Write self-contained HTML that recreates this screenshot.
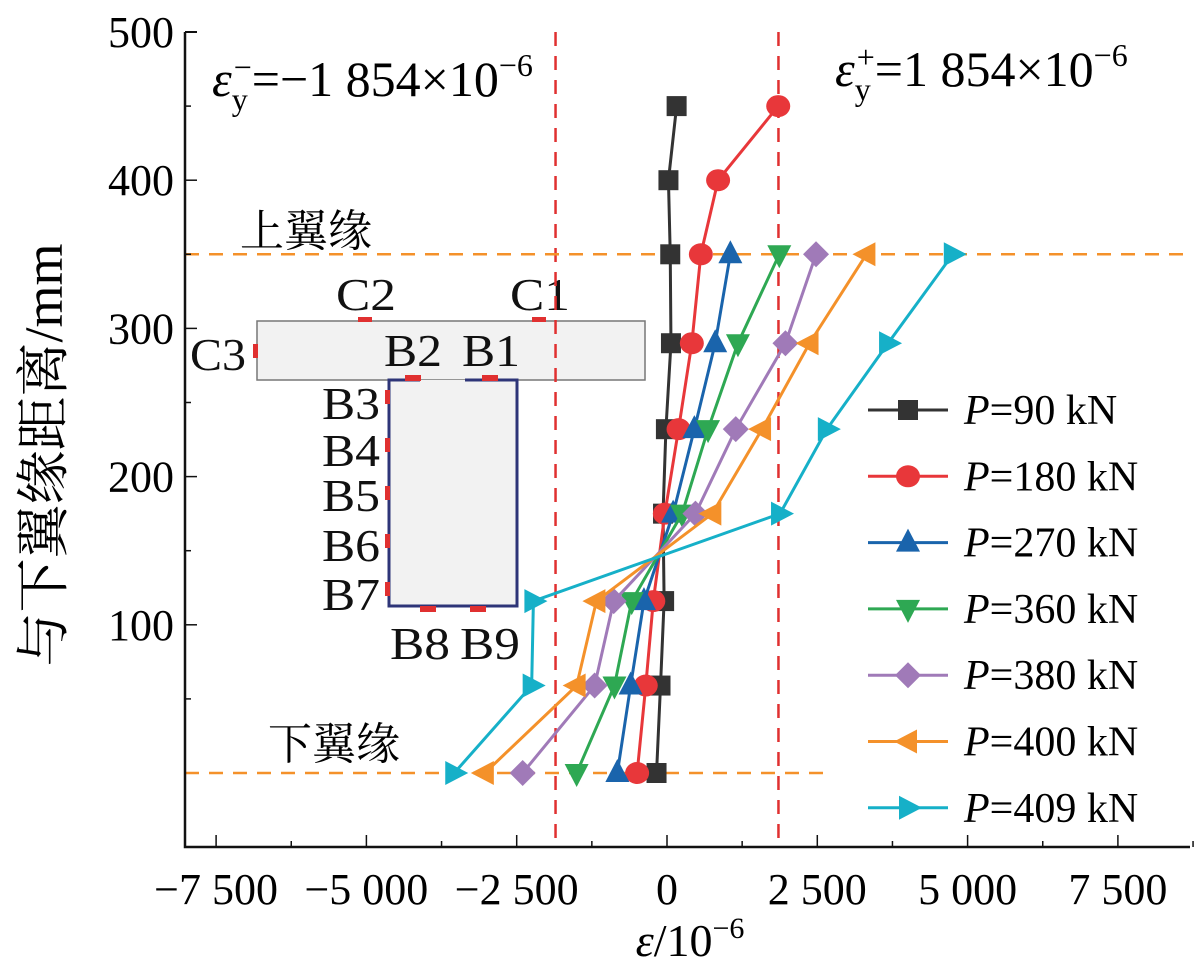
<!DOCTYPE html>
<html><head><meta charset="utf-8"><style>
body{margin:0;background:#fff}
svg{display:block;font-family:"Liberation Serif","Noto Serif CJK SC",serif}
</style></head><body>
<svg id="chart" width="1195" height="967" viewBox="0 0 1195 967" xmlns="http://www.w3.org/2000/svg">
<g id="inset">
  <rect x="257" y="321" width="388" height="59" fill="#f2f2f2" stroke="#777" stroke-width="1.5"/>
  <rect x="389" y="380" width="128" height="226" fill="#f2f2f2" stroke="none"/>
  <path d="M420,380 L389,380 L389,606 L517,606 L517,380 L465,380" fill="none" stroke="#2e3578" stroke-width="3"/>
  <g fill="#e03030">
    <rect x="358" y="317" width="14" height="5"/><rect x="532" y="317" width="14" height="5"/>
    <rect x="253" y="344" width="5" height="14"/>
    <rect x="405" y="375" width="16" height="6"/><rect x="482" y="375" width="16" height="6"/>
    <rect x="385" y="390" width="5" height="14"/><rect x="385" y="438" width="5" height="14"/>
    <rect x="385" y="486" width="5" height="14"/><rect x="385" y="534" width="5" height="14"/>
    <rect x="385" y="582" width="5" height="14"/>
    <rect x="420" y="606" width="16" height="6"/><rect x="470" y="606" width="16" height="6"/>
  </g>
  <g font-size="46" fill="#111">
    <text x="336" y="310" textLength="60" lengthAdjust="spacingAndGlyphs">C2</text><text x="510" y="310" textLength="60" lengthAdjust="spacingAndGlyphs">C1</text><text x="190" y="370" textLength="56" lengthAdjust="spacingAndGlyphs">C3</text>
    <text x="384" y="366" textLength="58" lengthAdjust="spacingAndGlyphs">B2</text><text x="462" y="366" textLength="58" lengthAdjust="spacingAndGlyphs">B1</text>
    <text x="322" y="419" textLength="58" lengthAdjust="spacingAndGlyphs">B3</text><text x="322" y="466" textLength="58" lengthAdjust="spacingAndGlyphs">B4</text><text x="322" y="511" textLength="58" lengthAdjust="spacingAndGlyphs">B5</text>
    <text x="322" y="561" textLength="58" lengthAdjust="spacingAndGlyphs">B6</text><text x="322" y="610" textLength="58" lengthAdjust="spacingAndGlyphs">B7</text>
    <text x="390" y="659" textLength="60" lengthAdjust="spacingAndGlyphs">B8</text><text x="460" y="659" textLength="60" lengthAdjust="spacingAndGlyphs">B9</text>
  </g>
</g>
<g id="grid"></g>
<g id="axes"></g>
<g id="series"></g>
<g id="legend"></g>
<text x="240" y="246" font-size="44">上翼缘</text>
<text x="268" y="759" font-size="44">下翼缘</text>
<text x="212" y="96" font-size="50"><tspan font-style="italic">ε</tspan><tspan font-size="32" dy="14">y</tspan><tspan font-size="32" dx="-14" dy="-32">−</tspan><tspan dy="18">=−1 854×10</tspan><tspan font-size="32" dy="-20">−6</tspan></text>
<text x="835" y="86" font-size="50"><tspan font-style="italic">ε</tspan><tspan font-size="32" dy="14">y</tspan><tspan font-size="32" dx="-14" dy="-32">+</tspan><tspan dy="18">=1 854×10</tspan><tspan font-size="32" dy="-20">−6</tspan></text>
<text x="690" y="956" font-size="46" text-anchor="middle"><tspan font-style="italic">ε</tspan>/10<tspan font-size="30" dy="-18">−6</tspan></text>
<text transform="translate(62,455) rotate(-90)" font-size="54" text-anchor="middle">与下翼缘距离/mm</text>
</svg>
<script>
const xTicks=[-7500,-5000,-2500,0,2500,5000,7500];
const xTickLabels=["−7 500","−5 000","−2 500","0","2 500","5 000","7 500"];
const yTicks=[100,200,300,400,500];
const yLevels=[450,400,350,290,232,175,116,59,0];
const seriesNames=["P=90 kN","P=180 kN","P=270 kN","P=360 kN","P=380 kN","P=400 kN","P=409 kN"];
const s90=[160,24,54,66,-18,-66,-48,-108,-174];
const s180=[1850,850,563,413,192,-36,-228,-353,-497];
const s270=[null,null,1054,802,455,102,-383,-605,-826];
const s360=[null,null,1868,1180,683,251,-587,-874,-1503];
const s380=[null,null,2479,1970,1144,473,-886,-1204,-2401];
const s400=[null,null,3317,2371,1581,754,-1174,-1503,-3030];
const s409=[null,null,4754,3677,2659,1880,-2222,-2251,-3539];
const yieldStrain=[-1854,1854];
const flangeLevels=[350,0];

const seriesData=[s90,s180,s270,s360,s380,s400,s409];
const colors=["#333333","#e8373a","#1a64ac","#2ea853","#a07ab8","#f4912a","#16b0c8"];
const markers=["square","circle","up","down","diamond","left","right"];
const NS="http://www.w3.org/2000/svg";
const X=v=>667+v*0.06012, Y=v=>773-v*1.482;
function mk(tag,attrs,parent){const e=document.createElementNS(NS,tag);for(const k in attrs)e.setAttribute(k,attrs[k]);parent.appendChild(e);return e;}
const grid=document.getElementById('grid'),axes=document.getElementById('axes'),ser=document.getElementById('series'),leg=document.getElementById('legend');

yieldStrain.forEach(v=>{const l=mk('line',{x1:X(v),x2:X(v),y1:32,y2:847,stroke:'#e03030','stroke-width':2.5,'stroke-dasharray':'14,10'},grid);

});
flangeLevels.forEach((v,i)=>{const l=mk('line',{x1:185,x2:i==0?1187:828,y1:Y(v),y2:Y(v),stroke:'#f4912a','stroke-width':2.5,'stroke-dasharray':'14,10'},grid);

});

const ax=mk('path',{d:'M185,32 L185,847 L1190,847',fill:'none',stroke:'#111','stroke-width':2.5},axes);


mk('line',{x1:185,x2:197,y1:32,y2:32,stroke:'#111','stroke-width':2},axes);
xTicks.forEach((v,i)=>{mk('line',{x1:X(v),x2:X(v),y1:847,y2:835,stroke:'#111','stroke-width':1.5},axes);
 mk('line',{x1:X(v+1250),x2:X(v+1250),y1:847,y2:841,stroke:'#111','stroke-width':1.5},axes);
 const t=mk('text',{x:X(v),y:904,'font-size':44,'text-anchor':'middle'},axes);t.textContent=xTickLabels[i];
 
 });
yTicks.forEach(v=>{mk('line',{x1:185,x2:197,y1:Y(v),y2:Y(v),stroke:'#111','stroke-width':1.5},axes);
 mk('line',{x1:185,x2:191,y1:Y(v-50),y2:Y(v-50),stroke:'#111','stroke-width':1.5},axes);
 const t=mk('text',{x:174,y:Y(v)+15,'font-size':44,'text-anchor':'end'},axes);t.textContent=v;
 
 });

function marker(type,x,y,c,parent){let d;
 if(type=='square')return mk('rect',{x:x-10,y:y-10,width:20,height:20,fill:c},parent);
 if(type=='circle')return mk('ellipse',{cx:x,cy:y,rx:12,ry:11,fill:c},parent);
 if(type=='up')d=`M${x},${y-14} L${x+12},${y+9} L${x-12},${y+9}Z`;
 if(type=='down')d=`M${x},${y+14} L${x+12},${y-9} L${x-12},${y-9}Z`;
 if(type=='diamond')d=`M${x},${y-13} L${x+13},${y} L${x},${y+13} L${x-13},${y}Z`;
 if(type=='left')d=`M${x-14},${y} L${x+9},${y-12} L${x+9},${y+12}Z`;
 if(type=='right')d=`M${x+14},${y} L${x-9},${y-12} L${x-9},${y+12}Z`;
 return mk('path',{d:d,fill:c},parent);}

seriesData.forEach((arr,si)=>{const g=mk('g',{},ser);
 
 
 const pts=[];arr.forEach((v,i)=>{if(v!==null)pts.push([X(v),Y(yLevels[i])]);});
 mk('polyline',{points:pts.map(p=>p.join(',')).join(' '),fill:'none',stroke:colors[si],'stroke-width':3},g);
 pts.forEach(p=>{const m=marker(markers[si],p[0],p[1],colors[si],g);
  
  });
 const ly=410+si*66.3;const lg=mk('g',{},leg);
 
 
 mk('line',{x1:868,x2:948,y1:ly,y2:ly,stroke:colors[si],'stroke-width':3},lg);
 marker(markers[si],908,ly,colors[si],lg);
 const t=mk('text',{x:964,y:ly+14,'font-size':42},lg);
 const parts=seriesNames[si].split('=');
 const a=mk('tspan',{'font-style':'italic'},t);a.textContent=parts[0];
 const b=mk('tspan',{},t);b.textContent='='+parts[1];
});
</script>
</body></html>
